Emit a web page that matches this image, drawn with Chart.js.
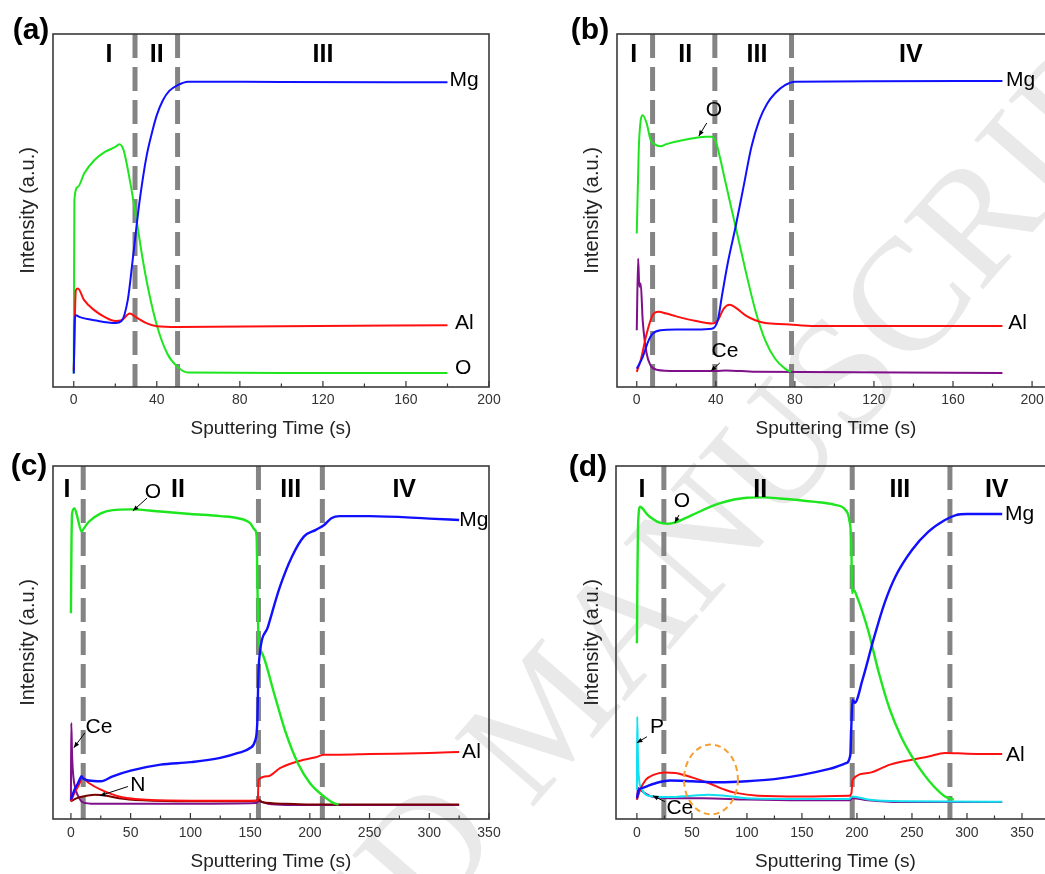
<!DOCTYPE html>
<html>
<head>
<meta charset="utf-8">
<script src="https://cdn.jsdelivr.net/npm/chart.js@4"></script>
<style>
  html, body { margin: 0; padding: 0; background: #fff; overflow: hidden; }
  #wrap { position: relative; width: 1045px; height: 874px; overflow: hidden; }
  canvas { position: absolute; }
  #wm { position: absolute; left: 544px; top: 713px; transform: translate(-50%, -50%) rotate(-49deg);
        font: 160px "Liberation Serif", serif; color: #e9e9e9; white-space: nowrap; }
</style>
</head>
<body>
<div id="wrap">
  <div id="wm">ACCEPTED MANUSCRIPT</div>
  <canvas id="ca" width="522" height="440" style="left:0;top:0"></canvas>
  <canvas id="cb" width="533" height="440" style="left:522px;top:0"></canvas>
  <canvas id="cc" width="522" height="434" style="left:0;top:440px"></canvas>
  <canvas id="cd" width="533" height="434" style="left:522px;top:440px"></canvas>
</div>
<script>
// colours of the elements
const BLUE = '#1010ff', GREEN = '#1ee61e', RED = '#ff1010', PURPLE = '#80108a', CYAN = '#10e0f0', MAROON = '#7a0000';

// ---- panel (a) ----
const aTicks = [0, 40, 80, 120, 160, 200];
const aBounds = [29.5, 50];
const aMg = [[0,3.8],[0.5,18.9],[1,20.3],[3,19.8],[10,18.9],[20,18.1],[23,18.7],[26,24.6],[28,34],[30,44.4],[32,53.9],[35,65.2],[38,72.8],[40,77],[43,81.3],[46,83.9],[50,85.5],[55,86.5],[100,86.4],[180,86.3]];
const aO = [[0,3.8],[0.3,53],[2,56.7],[5,60.5],[10,64.3],[15,66.6],[20,68],[22,68.8],[24,67.1],[27,58.6],[30,48.2],[33,36.9],[36,27.4],[40,17.5],[45,9.5],[50,5.7],[55,4.1],[100,4],[180,4]];
const aAl = [[0,4.7],[1,27.4],[2,27.9],[5,24.6],[10,21.7],[15,19.8],[20,18.7],[23,18.9],[27,20.8],[30,19.8],[35,18.1],[40,17.2],[50,17],[100,17.2],[180,17.5]];

// ---- panel (b) ----
const bTicks = [0, 40, 80, 120, 160, 200];
const bBounds = [8, 39.5, 78.3];
const bMg = [[0,5.2],[3,8.5],[6,13.2],[8,15.1],[12,16.1],[20,16.3],[30,16.3],[38,16.5],[41,18.9],[43,25.5],[46,35],[50,45.4],[54,56.7],[58,68],[62,75.6],[66,80.3],[70,83.2],[75,85.5],[80,86.5],[120,86.6],[185,86.7]];
const bO = [[0,43.5],[1,67.1],[2,75.6],[3,77],[5,74.7],[7,70],[9,68.8],[12,68.2],[15,68.8],[25,70.1],[35,70.9],[38,70.9],[40,69.5],[42,65.2],[45,57.7],[50,45.4],[55,33.1],[60,21.7],[65,13.2],[70,8],[75,5.2],[78,4.3]];
const bAl = [[0,4.3],[2,7.6],[5,15.1],[8,20.3],[11,21.3],[15,20.8],[20,20],[30,18.7],[38,18],[41,18.9],[44,22.2],[47,23.3],[50,22.5],[55,20.3],[60,18.9],[65,18.1],[75,17.8],[90,17.3],[185,17.3]];
const bCe = [[0,16.1],[0.7,36.4],[1.3,28.4],[2,29.3],[3,18.9],[5,9.5],[7,6.1],[10,4.9],[20,4.5],[40,4.5],[45,4.7],[60,4.3],[185,4]];

// ---- panel (c) ----
const cTicks = [0, 50, 100, 150, 200, 250, 300, 350];
const cBounds = [10.3, 157, 210.5];
const cMg = [[0,5.5],[3,8.3],[6,10.2],[9,12.1],[10,11.6],[15,10.9],[25,10.7],[35,12.1],[50,13.7],[75,15.4],[100,16.1],[125,17.3],[140,18.7],[150,20.1],[154,22],[156,27.2],[157,41.3],[158,46.5],[165,54.5],[175,65.8],[185,74.3],[195,80],[205,81.9],[212,83.3],[218,85.2],[225,85.8],[250,85.8],[300,85.1],[325,84.7]];
const cO = [[0,58.3],[0.5,79],[1,86.6],[3,88],[5,86.1],[9,81.4],[10,81.9],[15,84.2],[25,86.6],[35,87.5],[50,87.7],[75,87.1],[100,86.4],[125,85.8],[140,85.2],[150,83.8],[154,81.9],[155.5,80],[156,69.6],[157,51.7],[160,47],[170,35.7],[180,24.3],[190,15.8],[200,10.2],[210,6.9],[220,4.5],[224,4.1]];
const cAl = [[0,5],[3,7.4],[6,9.2],[10,11.6],[15,10.2],[25,8.3],[40,6.4],[60,5.5],[100,5.2],[155,5.2],[156.5,5.5],[157,11.1],[165,12.1],[175,14.4],[185,15.8],[195,16.8],[205,17.5],[212,18.2],[225,18.2],[250,18.4],[300,18.7],[325,19]];
const cN = [[0,5],[5,5.9],[10,6.4],[20,6.9],[30,6.6],[40,5.9],[60,5.3],[100,5],[155,5.2],[157,5.5],[160,4.8],[180,4.3],[200,4.1],[325,4.1]];
const cCe = [[0,5],[0.3,27.2],[1,17.7],[2,12.1],[4,8.3],[7,5.9],[10,4.7],[20,4.3],[100,4.3],[155,4.5],[157,5],[165,4.3],[180,4],[325,4]];

// ---- panel (d) ----
const dTicks = [0, 50, 100, 150, 200, 250, 300, 350];
const dBounds = [24.5, 195.7, 284.5];
const dMg = [[0,5.9],[2,8.3],[5,8.8],[10,9.4],[20,10.4],[30,10.9],[50,10.7],[75,10.4],[100,10.7],[125,11.3],[150,12.5],[175,14.2],[190,15.8],[194,18.2],[195,27.2],[196,33.8],[198,32.9],[205,39.4],[215,50.8],[225,61.1],[235,68.7],[250,76.2],[265,81.4],[280,84.7],[290,86.1],[300,86.4],[332,86.4]];
const dO = [[0,49.8],[0.5,69.6],[1,82.8],[3,88.5],[5,88],[10,86.1],[15,84.9],[20,84],[28,83.6],[35,84],[50,86.1],[75,89.4],[100,91],[115,91.1],[130,90.8],[160,89.9],[180,89],[190,87.4],[193,84.7],[195,76.2],[195.5,64],[197,64.9],[200,63],[210,53.6],[220,41.3],[230,30.9],[240,23.4],[250,17.7],[260,13],[270,9.2],[280,6.4],[288,5.5]];
const dAl = [[0,5.5],[3,8.3],[8,11.1],[15,12.5],[25,13.2],[35,13],[50,11.8],[65,10.2],[80,8.3],[90,7.4],[110,6.6],[150,6.4],[193,6.6],[195,7.4],[196,11.1],[210,13],[230,15.4],[250,16.8],[265,17.7],[280,18.7],[300,18.5],[332,18.4]];
const dP = [[0,8.3],[0.3,29],[1,16.8],[2,11.1],[4,8.8],[8,6.9],[15,6.4],[30,6.2],[50,6.6],[65,6.9],[80,6.6],[100,5.9],[150,5.7],[193,5.7],[196,6.4],[210,5.5],[240,5],[332,4.9]];
const dCe = [[0,5.5],[1,8.8],[3,8.3],[8,7.2],[15,6.2],[30,5.9],[60,5.9],[100,5.5],[150,5.3],[193,5.3],[196,5.9],[210,5.3],[240,4.8],[332,4.8]];

const FONT = '"Liberation Sans", Arial, sans-serif';

// draws frame, inward ticks, region numerals, element labels and arrows
const decor = {
  id: 'decor',
  afterDraw(chart) {
    const o = chart.options.plugins.decor;
    const {ctx, chartArea: ca, scales: {x, y}} = chart;
    const px = v => x.getPixelForValue(v), py = v => y.getPixelForValue(v);
    ctx.save();
    // ticks
    ctx.strokeStyle = '#333'; ctx.lineWidth = 1.2;
    const t = o.ticks;
    ctx.beginPath();
    t.forEach((v, i) => {
      ctx.moveTo(px(v), ca.bottom); ctx.lineTo(px(v), ca.bottom - 6);
      if (i < t.length - 1) {
        const m = (v + t[i + 1]) / 2;
        ctx.moveTo(px(m), ca.bottom); ctx.lineTo(px(m), ca.bottom - 3.5);
      }
    });
    ctx.stroke();
    // frame
    ctx.strokeStyle = '#3a3a3a'; ctx.lineWidth = 1.6;
    ctx.strokeRect(ca.left, ca.top, ca.right - ca.left, ca.bottom - ca.top);
    // roman numerals
    ctx.fillStyle = '#000';
    ctx.textAlign = 'center'; ctx.textBaseline = 'middle';
    ctx.font = 'bold 25px ' + FONT;
    o.roman.forEach(r => ctx.fillText(r[0], px(r[1]), py(o.romanY)));
    // element names
    ctx.font = '21px ' + FONT;
    o.names.forEach(n => {
      ctx.textAlign = n[3] || 'left';
      ctx.fillText(n[0], px(n[1]), py(n[2]));
    });
    // arrows
    ctx.strokeStyle = '#000'; ctx.lineWidth = 1;
    (o.arrows || []).forEach(a => {
      const x1 = px(a[0]), y1 = py(a[1]), x2 = px(a[2]), y2 = py(a[3]);
      ctx.beginPath(); ctx.moveTo(x1, y1); ctx.lineTo(x2, y2); ctx.stroke();
      const ang = Math.atan2(y2 - y1, x2 - x1);
      ctx.beginPath();
      ctx.moveTo(x2, y2);
      ctx.lineTo(x2 - 6 * Math.cos(ang - 0.4), y2 - 6 * Math.sin(ang - 0.4));
      ctx.lineTo(x2 - 6 * Math.cos(ang + 0.4), y2 - 6 * Math.sin(ang + 0.4));
      ctx.closePath(); ctx.fill();
    });
    // dashed ellipse
    if (o.ellipse) {
      const e = o.ellipse;
      ctx.strokeStyle = '#f5a030'; ctx.lineWidth = 2; ctx.setLineDash([6, 4]);
      ctx.beginPath();
      ctx.ellipse(px(e[0]), py(e[1]), Math.abs(px(e[0] + e[2]) - px(e[0])), Math.abs(py(e[1] + e[3]) - py(e[1])), 0, 0, Math.PI * 2);
      ctx.stroke();
      ctx.setLineDash([]);
    }
    // panel letter
    ctx.font = 'bold 30px ' + FONT;
    ctx.textAlign = 'center'; ctx.textBaseline = 'middle';
    ctx.fillText(o.letter, ca.left + o.letterPos[0], ca.top + o.letterPos[1]);
    ctx.restore();
  }
};

function makePanel(id, cfg) {
  const datasets = cfg.series.map(s => ({
    data: s[0].map(p => ({x: p[0], y: p[1]})),
    borderColor: s[1],
    borderWidth: s[2] || 2,
    pointRadius: 0,
    cubicInterpolationMode: 'monotone',
    order: 1
  }));
  cfg.bounds.forEach(b => datasets.push({
    data: [{x: b, y: 100}, {x: b, y: 0}],
    borderColor: 'rgba(125,125,125,0.95)',
    borderWidth: 5,
    borderDash: [24, 9],
    pointRadius: 0,
    order: 5
  }));
  new Chart(document.getElementById(id), {
    type: 'line',
    data: {datasets},
    options: {
      responsive: false,
      animation: false,
      layout: {padding: {left: 0, top: cfg.top, right: cfg.right, bottom: 0}},
      plugins: {legend: {display: false}, tooltip: {enabled: false}, decor: cfg.decor},
      scales: {
        x: {
          type: 'linear', min: cfg.xmin, max: cfg.xmax,
          grid: {display: false, drawTicks: false}, border: {display: false},
          afterBuildTicks: s => { s.ticks = cfg.decor.ticks.map(v => ({value: v})); },
          afterFit: s => { s.height = cfg.xh; },
          ticks: {padding: cfg.tickPad, color: '#333', font: {family: FONT, size: 14}, maxRotation: 0, autoSkip: false},
          title: {display: true, text: 'Sputtering Time (s)', color: '#222', font: {family: FONT, size: 19}, padding: {top: 0, bottom: cfg.xtPad}}
        },
        y: {
          min: 0, max: 100,
          grid: {display: false, drawTicks: false}, border: {display: false},
          ticks: {display: false},
          afterFit: s => { s.width = cfg.yw; },
          title: {display: true, text: 'Intensity (a.u.)', color: '#222', font: {family: FONT, size: 20}, padding: {top: cfg.ytPad, bottom: 0}}
        }
      }
    },
    plugins: [decor]
  });
}

makePanel('ca', {
  xmin: -10, xmax: 200, top: 34, right: 33, xh: 53, yw: 53, tickPad: 5, xtPad: 0, ytPad: 16,
  series: [[aMg, BLUE], [aAl, RED], [aO, GREEN]],
  bounds: aBounds,
  decor: {
    ticks: aTicks, letter: '(a)', letterPos: [-22, -3], romanY: 94,
    roman: [['I', 17], ['II', 40], ['III', 120]],
    names: [['Mg', 181, 87], ['Al', 183.6, 18.1], ['O', 183.6, 5.4]]
  }
});

makePanel('cb', {
  xmin: -10, xmax: 211.6, top: 34, right: 0, xh: 53, yw: 95, tickPad: 5, xtPad: 0, ytPad: 58,
  series: [[bMg, BLUE], [bAl, RED], [bO, GREEN], [bCe, PURPLE]],
  bounds: bBounds,
  decor: {
    ticks: bTicks, letter: '(b)', letterPos: [-27, -3], romanY: 94,
    roman: [['I', -1.5], ['II', 24.5], ['III', 60.8], ['IV', 138.7]],
    names: [['Mg', 186.8, 87], ['Al', 188, 18.1], ['O', 39, 78.5, 'center'], ['Ce', 44.6, 10.2, 'center']],
    arrows: [[35.4, 74.8, 31.4, 71.1], [42, 6.8, 37.5, 4.5]]
  }
});

makePanel('cc', {
  xmin: -15, xmax: 350, top: 26, right: 33, xh: 55, yw: 53, tickPad: 6, xtPad: 1, ytPad: 16,
  series: [[cMg, BLUE, 2.4], [cO, GREEN, 2.4], [cAl, RED], [cN, MAROON], [cCe, PURPLE]],
  bounds: cBounds,
  decor: {
    ticks: cTicks, letter: '(c)', letterPos: [-24, 1], romanY: 93.2,
    roman: [['I', -3.4], ['II', 89.6], ['III', 184], ['IV', 279]],
    names: [['Mg', 325, 84.7], ['Al', 327.5, 19], ['O', 68.7, 92.7, 'center'], ['Ce', 23.5, 25.9, 'center'], ['N', 56, 9.7, 'center']],
    arrows: [[63.7, 90.9, 51.9, 87.3], [11.7, 24.4, 2.5, 20.2], [47.7, 9.2, 24.3, 6.6]]
  }
});

makePanel('cd', {
  xmin: -19, xmax: 380, top: 26, right: 0, xh: 55, yw: 94, tickPad: 6, xtPad: 1, ytPad: 58,
  series: [[dMg, BLUE, 2.4], [dO, GREEN, 2.4], [dAl, RED], [dP, CYAN], [dCe, PURPLE]],
  bounds: dBounds,
  decor: {
    ticks: dTicks, letter: '(d)', letterPos: [-28, 2], romanY: 93.2,
    roman: [['I', 4.5], ['II', 112], ['III', 239], ['IV', 327]],
    names: [['Mg', 334.5, 86.4], ['Al', 335.5, 18.2], ['O', 40.9, 90.1, 'center'], ['P', 18.2, 25.9, 'center'], ['Ce', 39, 3.2, 'center']],
    arrows: [[38.2, 86.1, 34.5, 83.9], [9.1, 23.3, 0, 21.6], [25.5, 4.9, 14.5, 6.6]],
    ellipse: [67.3, 11.2, 24.5, 9.9]
  }
});
</script>
</body>
</html>
